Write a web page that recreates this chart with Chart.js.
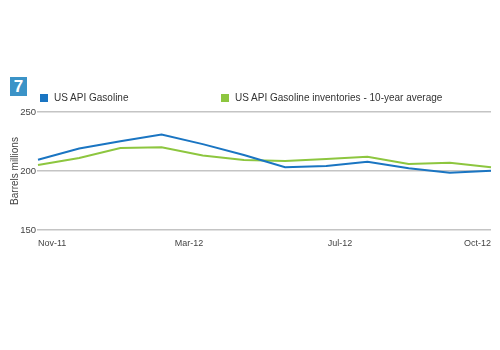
<!DOCTYPE html>
<html>
<head>
<meta charset="utf-8">
<script src="https://cdn.jsdelivr.net/npm/chart.js@4"></script>
<style>
  html, body { margin:0; padding:0; background:#fff; }
  #wrap { position:relative; width:500px; height:350px; font-family:"Liberation Sans", Arial, sans-serif; }
  canvas { position:absolute; left:0; top:0; }
  .badge { position:absolute; left:10px; top:77px; width:17px; height:19px; background:#3b93c7; color:#fff; font-weight:bold; font-size:17px; line-height:19px; text-align:center; }
  .leg { position:absolute; top:93px; font-size:10px; color:#333; white-space:nowrap; line-height:10px; }
  .leg span { display:inline-block; width:8px; height:8px; margin-right:6px; vertical-align:-1px; }
</style>
</head>
<body>
<div id="wrap">
  <canvas id="c" width="500" height="350"></canvas>
  <div class="badge">7</div>
  <div class="leg" style="left:40px;"><span style="background:#1a75c2"></span>US API Gasoline</div>
  <div class="leg" style="left:221px;"><span style="background:#8dc63f"></span>US API Gasoline inventories - 10-year average</div>
</div>
<script>
const months = ['Nov-11','Dec-11','Jan-12','Feb-12','Mar-12','Apr-12','May-12','Jun-12','Jul-12','Aug-12','Sep-12','Oct-12'];
const tickLabels = ['Nov-11','Mar-12','Jul-12','Oct-12'];
const gasoline = [209.5, 219, 225.3, 231, 222.8, 213.5, 203.2, 204.2, 207.8, 202.3, 198.6, 200.2];
const tenYearAvg = [205, 211, 219.5, 220.2, 213.2, 209.3, 208.5, 210.2, 212.1, 206, 207, 203.2];
const seriesNames = ['US API Gasoline', 'US API Gasoline inventories - 10-year average'];
const yTicks = [150, 200, 250];

new Chart(document.getElementById('c'), {
  type: 'line',
  data: {
    labels: months,
    datasets: [
      { label: seriesNames[0], data: gasoline, borderColor: '#1a75c2', borderWidth: 2, pointRadius: 0, tension: 0, fill: false },
      { label: seriesNames[1], data: tenYearAvg, borderColor: '#8dc63f', borderWidth: 2, pointRadius: 0, tension: 0, fill: false }
    ]
  },
  options: {
    responsive: false,
    animation: false,
    layout: { padding: { left: 0, right: 9, top: 112, bottom: 90 } },
    plugins: { legend: { display: false }, tooltip: { enabled: false } },
    scales: {
      x: { type: 'category', display: false, offset: false },
      x2: {
        type: 'category', position: 'bottom', labels: tickLabels, offset: false, clip: false,
        grid: { display: false }, border: { display: false },
        ticks: { align: 'inner', maxRotation: 0, autoSkip: false, color: '#444', font: { family: 'Liberation Sans', size: 9 }, padding: 0 },
        afterFit: (s) => { s.height = 30; }
      },
      y: {
        min: 150, max: 250,
        afterBuildTicks: (s) => { s.ticks = yTicks.map(v => ({ value: v })); },
        grid: { color: '#c4c4c4', lineWidth: 1.5, drawTicks: true, tickLength: 1 },
        border: { display: false },
        ticks: { color: '#444', font: { family: 'Liberation Sans', size: 9.5 }, padding: 1 },
        title: { display: true, text: 'Barrels millions', color: '#444', font: { family: 'Liberation Sans', size: 10 }, padding: { top: 9, bottom: 0 } },
        afterFit: (s) => { s.width = 38; }
      }
    }
  }
});
</script>
</body>
</html>
